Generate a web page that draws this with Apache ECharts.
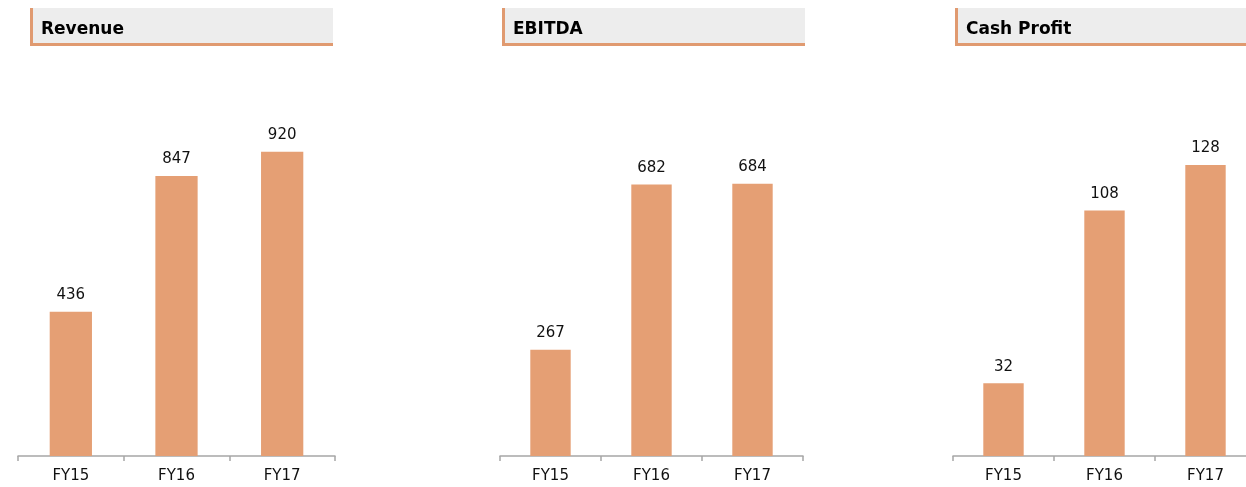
<!DOCTYPE html>
<html>
<head>
<meta charset="utf-8">
<script src="https://cdn.jsdelivr.net/npm/echarts@6/dist/echarts.min.js"></script>
<style>
  html, body { margin: 0; padding: 0; background: #fff; }
  #chart { width: 1246px; height: 487px; }
</style>
</head>
<body>
<div id="chart"></div>
<script>
// data
var years = ['FY15', 'FY16', 'FY17']
var revenue = [436, 847, 920]
var ebitda = [267, 682, 684]
var cashProfit = [32, 108, 128]
var panelTitles = ['Revenue', 'EBITDA', 'Cash Profit']

var barColor = '#E59F74'
var font = 'DejaVu Sans'

// panel positions: [grid left, grid width, title box left, title box width, y max]
var panels = [
    [18, 317, 30, 303, 1210],
    [500, 303, 502, 303, 1005],
    [953, 303, 955, 310, 176]
]
var seriesData = [revenue, ebitda, cashProfit]

var chart = echarts.init(document.getElementById('chart'))

var grids = [], xAxes = [], yAxes = [], series = [], graphics = []
panels.forEach(function (p, i) {
    grids.push({ left: p[0], width: p[1], top: 56, bottom: 31, outerBoundsMode: 'none', containLabel: false })
    xAxes.push({
        type: 'category',
        gridIndex: i,
        data: years,
        axisLine: { lineStyle: { color: '#A6A6A6', width: 1.5 } },
        axisTick: { show: true, length: 5, lineStyle: { color: '#A6A6A6', width: 1.5 } },
        axisLabel: { color: '#111', fontSize: 15, fontFamily: font, margin: 13 }
    })
    yAxes.push({
        type: 'value',
        gridIndex: i,
        min: 0,
        max: p[4],
        show: false,
        splitLine: { show: false }
    })
    series.push({
        type: 'bar',
        xAxisIndex: i,
        yAxisIndex: i,
        data: seriesData[i],
        barWidth: '40%',
        itemStyle: { color: barColor },
        label: {
            show: true,
            position: 'top',
            distance: 9,
            color: '#111',
            fontSize: 15,
            fontFamily: font
        }
    })
    // title box: grey background, orange left and bottom borders
    graphics.push({
        type: 'rect',
        shape: { x: p[2], y: 8, width: p[3], height: 38 },
        style: { fill: '#EDEDED' }
    })
    graphics.push({
        type: 'rect',
        shape: { x: p[2], y: 8, width: 3, height: 38 },
        style: { fill: '#E09A70' }
    })
    graphics.push({
        type: 'rect',
        shape: { x: p[2], y: 43, width: p[3], height: 3 },
        style: { fill: '#E09A70' }
    })
    graphics.push({
        type: 'text',
        x: p[2] + 11,
        y: 30,
        style: {
            text: panelTitles[i],
            fill: '#000',
            fontSize: 17,
            fontWeight: 'bold',
            fontFamily: font,
            verticalAlign: 'middle'
        }
    })
})

var option = {
    animation: false,
    grid: grids,
    xAxis: xAxes,
    yAxis: yAxes,
    series: series,
    graphic: graphics
}
chart.setOption(option)
</script>
</body>
</html>
